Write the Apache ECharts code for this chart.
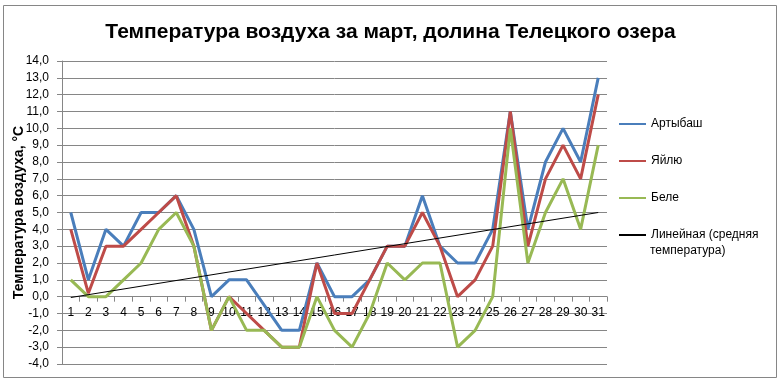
<!DOCTYPE html>
<html>
<head>
<meta charset="utf-8">
<script src="https://cdn.jsdelivr.net/npm/echarts@6/dist/echarts.min.js"></script>
<style>
html,body{margin:0;padding:0;background:#fff;}
#c{width:781px;height:382px;}
</style>
</head>
<body>
<div id="c"></div>
<script>
const days = ['1','2','3','4','5','6','7','8','9','10','11','12','13','14','15','16','17','18','19','20','21','22','23','24','25','26','27','28','29','30','31'];
const artybash = [5,1,4,3,5,5,6,4,0,1,1,-0.5,-2,-2,2,0,0,1,3,3,6,3,2,2,4,11,4,8,10,8,13];
const yailyu = [4,0.2,3,3,4,5,6,3,-2,0,-1,-2,-3,-3,2,-1,-1,1,3,3,5,3,0,1,3,11,3,7,9,7,12];
const bele = [1,0,0,1,2,4,5,3,-2,0,-2,-2,-3,-3,0,-2,-3,-1,2,1,2,2,-3,-2,0,10,2,5,7,4,9];
const trendStart = -0.05;
const trendEnd = 5.0;
const yTicks = {min:-4, max:14, interval:1};

const trend = days.map((d,i)=> i===0 ? trendStart : (i===days.length-1 ? trendEnd : null));

const gridTop = 61, gridBottom = 18, H = 382;
const gridH = H - gridTop - gridBottom;
// place the category axis where the value scale crosses zero
const zeroOffset = -gridH * (0 - yTicks.min) / (yTicks.max - yTicks.min);

const chart = echarts.init(document.getElementById('c'), null, {renderer:'canvas'});
const font = 'Liberation Sans, Arial, sans-serif';
chart.setOption({
  backgroundColor:'#fff',
  animation:false,
  textStyle:{fontFamily:font},
  title:{
    text:'Температура воздуха за март, долина Телецкого озера',
    left:'center', top:17,
    textStyle:{fontSize:21, fontWeight:'bold', color:'#000', fontFamily:font}
  },
  grid:{left:62, right:174, top:gridTop, bottom:gridBottom, containLabel:false, outerBoundsMode:'none'},
  legend:{
    orient:'vertical', left:613, top:113, itemGap:25,
    itemWidth:27, itemHeight:4,
    itemStyle:{opacity:0},
    textStyle:{fontSize:12, color:'#000', fontFamily:font},
    data:['Артыбаш','Яйлю','Беле','Линейная (средняя']
  },
  graphic:[
    {type:'rect', shape:{x:3.5,y:5.5,width:773,height:372}, style:{fill:'none', stroke:'#868686', lineWidth:1}, silent:true},
    {type:'text', left:650, top:245, style:{text:'температура)', fontSize:12, fill:'#000', fontFamily:font}}
  ],
  xAxis:{
    type:'category', data:days, boundaryGap:true, position:'bottom', offset:zeroOffset,
    axisLine:{onZero:false, lineStyle:{color:'#868686', width:1}},
    axisTick:{show:true, length:5, lineStyle:{color:'#868686'}},
    axisLabel:{color:'#000', fontSize:12, margin:10, interval:0, fontFamily:font},
    splitLine:{show:false}
  },
  yAxis:{
    type:'value', min:yTicks.min, max:yTicks.max, interval:yTicks.interval,
    name:'Температура воздуха, °С', nameLocation:'middle', nameRotate:90, nameGap:36,
    nameMoveOverlap:false,
    nameTextStyle:{fontSize:14, fontWeight:'bold', color:'#000', fontFamily:font},
    axisLine:{show:true, lineStyle:{color:'#868686'}},
    axisTick:{show:true, length:5, lineStyle:{color:'#868686'}},
    axisLabel:{color:'#000', fontSize:12, margin:13, fontFamily:font,
      formatter:v=>v.toFixed(1).replace('.',',')},
    splitLine:{show:true, lineStyle:{color:'#868686', width:1}}
  },
  series:[
    {name:'Артыбаш', type:'line', data:artybash, symbol:'none', lineStyle:{width:3, color:'#4A7EBB'}, itemStyle:{color:'#4A7EBB'}},
    {name:'Яйлю', type:'line', data:yailyu, symbol:'none', lineStyle:{width:3, color:'#BE4B48'}, itemStyle:{color:'#BE4B48'}},
    {name:'Беле', type:'line', data:bele, symbol:'none', lineStyle:{width:3, color:'#98B954'}, itemStyle:{color:'#98B954'}},
    {name:'Линейная (средняя', type:'line', data:trend, connectNulls:true, symbol:'none', lineStyle:{width:1, color:'#000'}, itemStyle:{color:'#000'}}
  ]
});
</script>
</body>
</html>
